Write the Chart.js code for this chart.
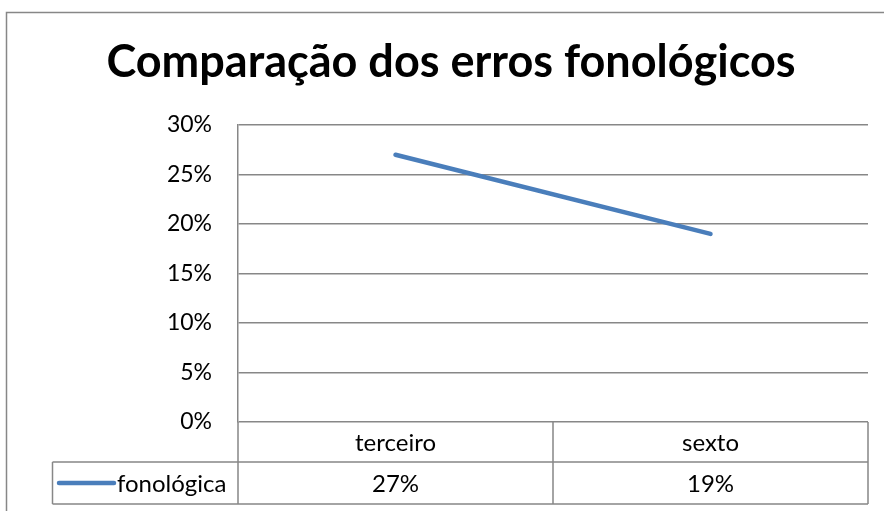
<!DOCTYPE html>
<html>
<head>
<meta charset="utf-8">
<script src="https://cdn.jsdelivr.net/npm/chart.js@4"></script>
<style>
html,body{margin:0;padding:0;background:#fff;}
#wrap{width:884px;height:511px;position:relative;}
</style>
</head>
<body>
<div id="wrap"><canvas id="c" width="884" height="511"></canvas></div>
<script>
const titleText = "Comparação dos erros fonológicos";
const categories = ["terceiro", "sexto"];
const seriesName = "fonológica";
const seriesValues = [0.27, 0.19];
const yTicks = [0, 0.05, 0.10, 0.15, 0.20, 0.25, 0.30];

const FONT = "Lato, 'Open Sans', sans-serif";
const GRID = "#878787";
const LINE = "#4A7EBB";

const pct = v => Math.round(v * 100) + "%";

const tablePlugin = {
  id: "tablePlugin",
  beforeDraw(chart) {
    const ctx = chart.ctx;
    ctx.save();
    ctx.strokeStyle = GRID;
    ctx.lineWidth = 1.5;
    ctx.strokeRect(6.5, 12.5, 1000, 1000);
    ctx.restore();
  },
  afterDraw(chart) {
    const ctx = chart.ctx;
    const x = chart.scales.x;
    const y = chart.scales.y;
    const top = y.getPixelForValue(0);
    const r1 = top + 40;
    const r2 = r1 + 42;
    const legendLeft = 52.5;
    const mids = [x.left];
    for (let i = 0; i < categories.length - 1; i++) {
      mids.push((x.getPixelForValue(i) + x.getPixelForValue(i + 1)) / 2);
    }
    mids.push(x.right);
    ctx.save();
    ctx.strokeStyle = GRID;
    ctx.lineWidth = 1.5;
    ctx.beginPath();
    ctx.moveTo(x.left, top); ctx.lineTo(x.left, r2);
    for (let i = 1; i < mids.length; i++) { ctx.moveTo(mids[i], top); ctx.lineTo(mids[i], r2); }
    ctx.moveTo(legendLeft, r1); ctx.lineTo(x.right, r1);
    ctx.moveTo(legendLeft, r2); ctx.lineTo(x.right, r2);
    ctx.moveTo(legendLeft, r1); ctx.lineTo(legendLeft, r2);
    ctx.stroke();
    ctx.fillStyle = "#000";
    ctx.font = "24px " + FONT;
    ctx.textAlign = "center";
    ctx.textBaseline = "middle";
    categories.forEach((c, i) => {
      ctx.fillText(c, x.getPixelForValue(i), (top + r1) / 2 + 1);
      ctx.fillText(pct(seriesValues[i]), x.getPixelForValue(i), (r1 + r2) / 2 + 1);
    });
    const ly = (r1 + r2) / 2;
    ctx.strokeStyle = LINE;
    ctx.lineWidth = 4.5;
    ctx.lineCap = "round";
    ctx.beginPath();
    ctx.moveTo(59, ly); ctx.lineTo(114, ly);
    ctx.stroke();
    ctx.textAlign = "left";
    ctx.fillText(seriesName, 117, ly + 1);
    ctx.restore();
  }
};

new Chart(document.getElementById("c"), {
  type: "line",
  data: {
    labels: categories,
    datasets: [{
      label: seriesName,
      data: seriesValues,
      borderColor: LINE,
      backgroundColor: LINE,
      borderWidth: 4.5,
      borderCapStyle: "round",
      pointRadius: 0,
      tension: 0
    }]
  },
  options: {
    responsive: false,
    animation: false,
    devicePixelRatio: 1,
    layout: { padding: { left: 18, right: 0, top: 0, bottom: 0 } },
    plugins: {
      legend: { display: false },
      tooltip: { enabled: false },
      title: {
        display: true,
        text: titleText,
        color: "#000",
        font: { family: FONT, size: 45, weight: "bold", lineHeight: 1.2 },
        padding: { top: 35, bottom: 36 }
      }
    },
    scales: {
      x: {
        type: "category",
        offset: true,
        grid: { display: false, drawTicks: false },
        border: { display: false },
        ticks: { display: false },
        afterFit(s) { s.height = 89; }
      },
      y: {
        min: 0, max: 0.3,
        afterBuildTicks(s) { s.ticks = yTicks.map(v => ({ value: v })); },
        afterFit(s) { s.width = 220; },
        grid: { color: GRID, lineWidth: 1.5, drawTicks: false },
        border: { display: true, color: GRID, width: 1.5 },
        ticks: {
          padding: 26,
          color: "#000",
          font: { family: FONT, size: 23 },
          callback: v => pct(v)
        }
      },
      yRight: {
        position: "right",
        display: true,
        min: 0, max: 0.3,
        grid: { display: false, drawTicks: false },
        border: { display: false },
        ticks: { display: false },
        afterFit(s) { s.width = 16; }
      }
    }
  },
  plugins: [tablePlugin]
});
</script>
</body>
</html>
